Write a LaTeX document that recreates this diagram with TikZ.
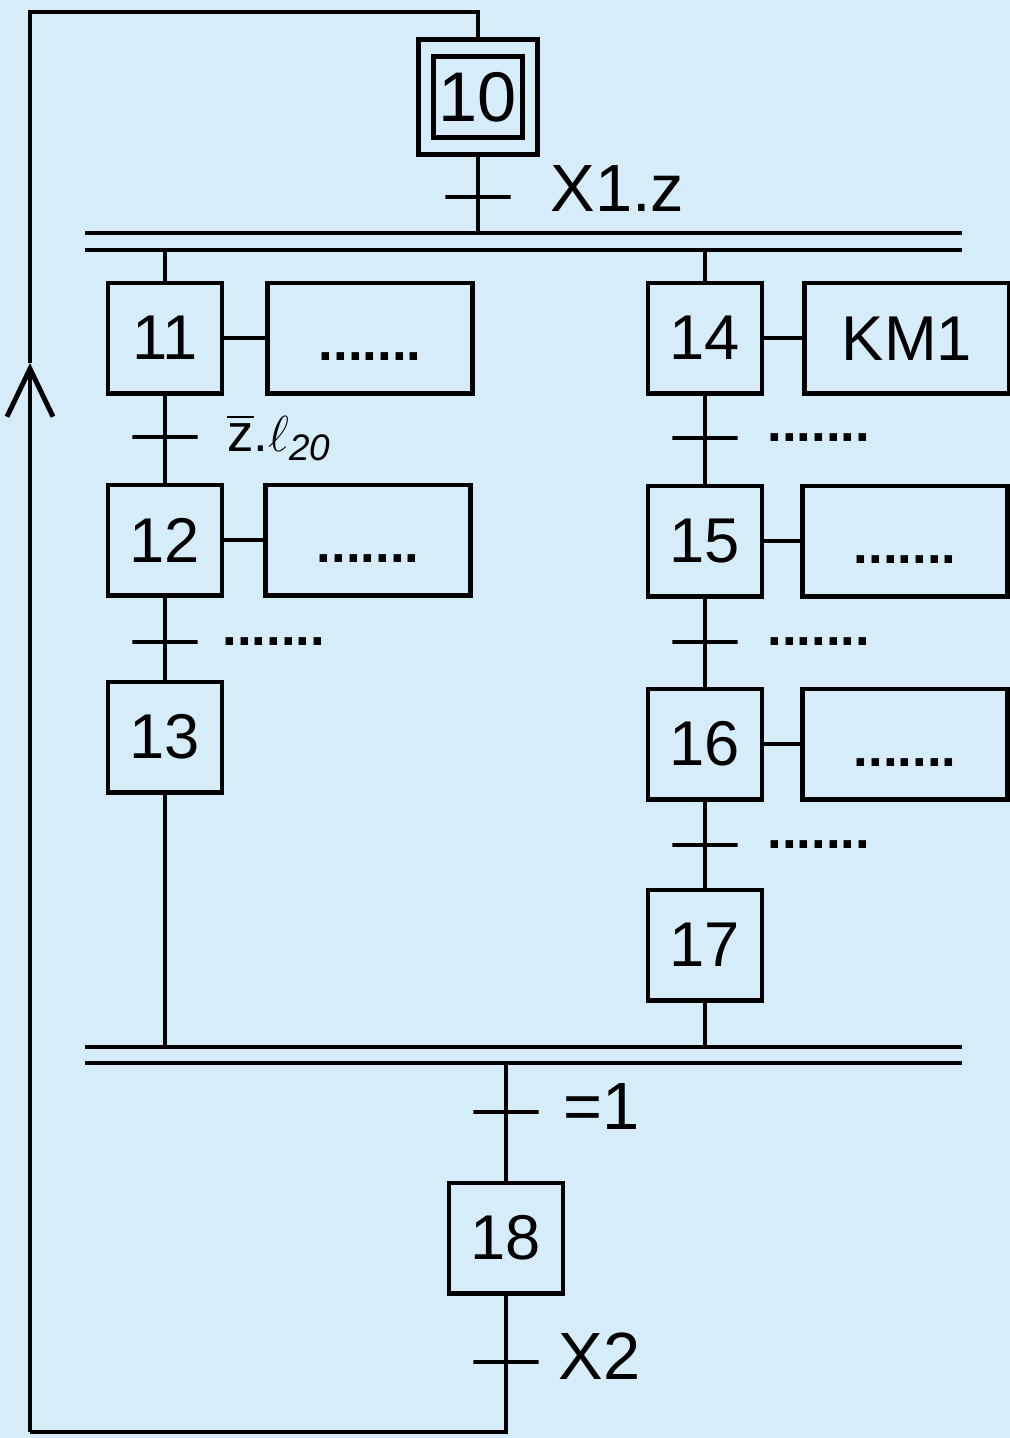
\documentclass[tikz,border=0pt]{standalone}
\usepackage{amsmath,amssymb}
\usepackage{fontspec}
\setmainfont{Liberation Sans}
\usetikzlibrary{arrows.meta,positioning}
\definecolor{paper}{RGB}{214,236,248}

\begin{document}
\begin{tikzpicture}[x=0.01cm,y=-0.01cm,line width=1.4pt,
  stepbox/.style={draw,minimum width=1.14cm,minimum height=1.1cm,inner sep=0pt,font=\fontsize{18}{20}\selectfont},
  actbox/.style={draw,minimum width=2.05cm,minimum height=1.1cm,inner sep=0pt,text height=0.44cm,font=\fontsize{18}{20}\selectfont},
  trans/.style={draw,minimum width=0.65cm,minimum height=0pt,inner sep=0pt},
  cond/.style={inner sep=0pt,font=\fontsize{19}{21}\selectfont},
  dots/.style={inner sep=0pt,font=\fontsize{15}{17}\selectfont\bfseries}]
  \fill[paper] (0,0) rectangle (1010,1438);
  \useasboundingbox (0,0) rectangle (1010,1438);
  % initial step and the first divergence
  \node[draw,minimum width=1.19cm,minimum height=1.15cm] (s10o) at (478,97) {};
  \node[stepbox,minimum width=0.89cm,minimum height=0.81cm,font=\fontsize{20}{22}\selectfont] (s10) at (478,97) {10};
  \node[trans] (t1) at (478,197) {};
  \node[cond,right=0.35cm of t1,yshift=0.08cm] (c1) {X1.z};
  \coordinate (d1a) at (85,233); \coordinate (d1b) at (962,233);
  \coordinate (d1c) at (85,250); \coordinate (d1d) at (962,250);
  \draw (d1a) -- (d1b); \draw (d1c) -- (d1d);
  % left sequence
  \node[stepbox] (s11) at (165,338) {11};
  \node[actbox]  (a11) at (370,338) {\fontsize{15}{17}\selectfont\bfseries .......};
  \node[trans]   (t2)  at (165,437) {};
  \node[cond,font=\fontsize{15}{17}\selectfont,right=0.25cm of t2] (c2) {$\overline{\mbox{z}}$.$\ell_{\mathit{20}}$};
  \node[stepbox] (s12) at (165,540) {12};
  \node[actbox]  (a12) at (368,540) {\fontsize{15}{17}\selectfont\bfseries .......};
  \node[trans]   (t3)  at (165,642) {};
  \node[dots,right=0.2cm of t3] (c3) {.......};
  \node[stepbox] (s13) at (165,737) {13};
  % right sequence
  \node[stepbox] (s14) at (705,338) {14};
  \node[actbox]  (a14) at (907,338) {KM1};
  \node[trans]   (t4)  at (705,438) {};
  \node[dots,right=0.25cm of t4] (c4) {.......};
  \node[stepbox] (s15) at (705,541) {15};
  \node[actbox]  (a15) at (905,541) {\fontsize{15}{17}\selectfont\bfseries .......};
  \node[trans]   (t5)  at (705,642) {};
  \node[dots,right=0.25cm of t5] (c5) {.......};
  \node[stepbox] (s16) at (705,744) {16};
  \node[actbox]  (a16) at (905,744) {\fontsize{15}{17}\selectfont\bfseries .......};
  \node[trans]   (t6)  at (705,845) {};
  \node[dots,right=0.25cm of t6] (c6) {.......};
  \node[stepbox] (s17) at (705,945) {17};
  % convergence and last step
  \coordinate (d2a) at (85,1047); \coordinate (d2b) at (962,1047);
  \coordinate (d2c) at (85,1063); \coordinate (d2d) at (962,1063);
  \draw (d2a) -- (d2b); \draw (d2c) -- (d2d);
  \node[trans]   (t7)  at (506,1112) {};
  \node[cond,right=0.2cm of t7,yshift=0.05cm] (c7) {=1};
  \node[stepbox] (s18) at (506,1238) {18};
  \node[trans]   (t8)  at (506,1362) {};
  \node[cond,right=0.15cm of t8,yshift=0.06cm] (c8) {X2};
  \coordinate (lc1) at (30,1432); \coordinate (la) at (30,363); \coordinate (lc2) at (30,12);
  % links
  \draw (s10o) -- (t1) -- (t1 |- d1a);
  \draw (s11 |- d1c) -- (s11) -- (t2) -- (s12) -- (t3) -- (s13) -- (s13 |- d2a);
  \draw (s14 |- d1c) -- (s14) -- (t4) -- (s15) -- (t5) -- (s16) -- (t6) -- (s17) -- (s17 |- d2a);
  \draw (t7 |- d2c) -- (t7) -- (s18) -- (t8) -- (t8 |- lc1) -- (lc1);
  \draw (s11) -- (a11); \draw (s12) -- (a12);
  \draw (s14) -- (a14); \draw (s15) -- (a15); \draw (s16) -- (a16);
  \draw[-{Straight Barb[length=4.8mm,width=4.6mm]}] (lc1) -- (la);
  \draw (la) -- (lc2) -- (lc2 -| s10o) -- (s10o);
\end{tikzpicture}
\end{document}
